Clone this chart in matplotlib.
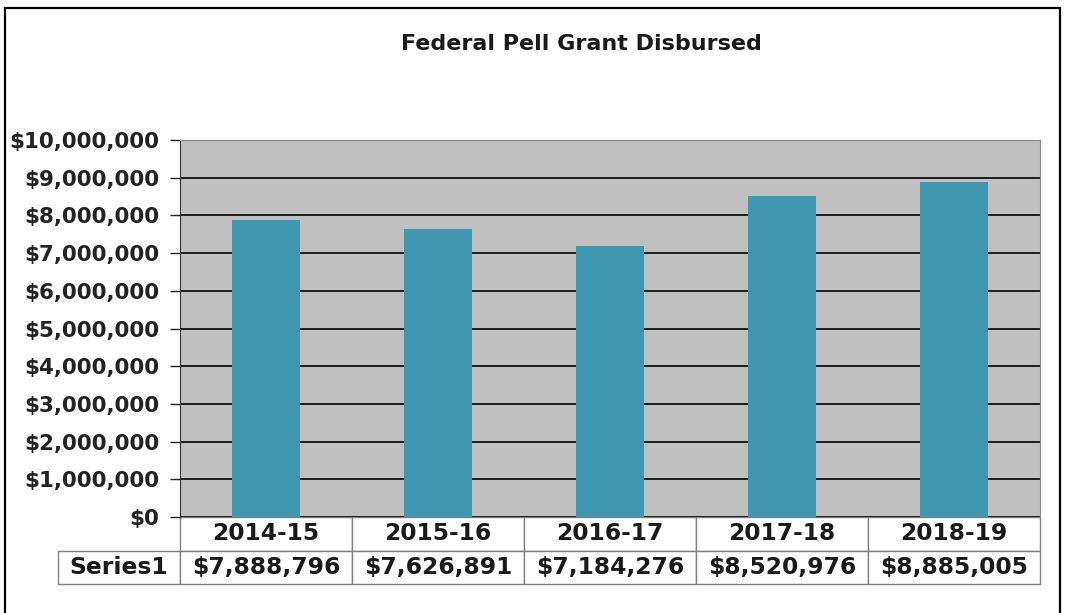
import matplotlib.pyplot as plt
from matplotlib.patches import Rectangle
from matplotlib.ticker import FuncFormatter

# data
years = ['2014-15', '2015-16', '2016-17', '2017-18', '2018-19']
pell = [7888796, 7626891, 7184276, 8520976, 8885005]
series_name = 'Series1'

plt.rcParams['font.family'] = 'DejaVu Sans'
plt.rcParams['font.weight'] = 'bold'

fig = plt.figure(figsize=(10.65, 6.13), dpi=100)
ax = fig.add_axes([180 / 1065, 1 - 517 / 613, 860 / 1065, 377 / 613])

# outer frame
fig.patches.append(Rectangle((5 / 1065, -0.02), 1055 / 1065, 1.02 - 8 / 613,
                             transform=fig.transFigure, fill=False,
                             edgecolor='black', linewidth=1.6))

ax.set_facecolor('#c0c0c0')
x = range(len(years))
ax.bar(x, pell, width=0.39, color='#4197b0', zorder=3)
ax.set_xlim(-0.5, len(years) - 0.5)
ax.set_ylim(0, 10000000)
ax.set_yticks(range(0, 10000001, 1000000))
ax.yaxis.set_major_formatter(FuncFormatter(lambda v, p: '${:,.0f}'.format(v)))
ax.grid(axis='y', color='black', linewidth=1.2, zorder=1)
ax.set_xticks([])
ax.tick_params(axis='y', length=7, width=1, labelsize=15.4, colors='#222222', pad=8)
for s in ['top', 'right']:
    ax.spines[s].set_color('#888888')
ax.spines['left'].set_color('#333333')
ax.spines['bottom'].set_visible(False)

# data table below the axes
lab_w = 122 / 860
tab = ax.table(cellText=[[series_name] + ['${:,}'.format(v) for v in pell]],
               colLabels=[''] + years,
               colWidths=[122] + [172] * len(years),
               cellLoc='center', colLoc='center',
               bbox=[-lab_w, -67 / 377, 1 + lab_w, 67 / 377])
tab.auto_set_font_size(False)
for (r, c), cell in tab.get_celld().items():
    cell.set_edgecolor('#808080')
    cell.set_linewidth(1.0)
    cell.get_text().set_fontsize(16.8)
    cell.get_text().set_fontweight('bold')
    cell.get_text().set_color('#1a1a1a')
tab[(0, 0)].visible_edges = ''
tab[(0, 0)].set_facecolor('none')

fig.text(0.546, 1 - 44 / 613, 'Federal Pell Grant Disbursed', ha='center', va='center',
         fontsize=16, fontweight='bold', color='#1a1a1a')

fig.savefig('out.png', dpi=100)
